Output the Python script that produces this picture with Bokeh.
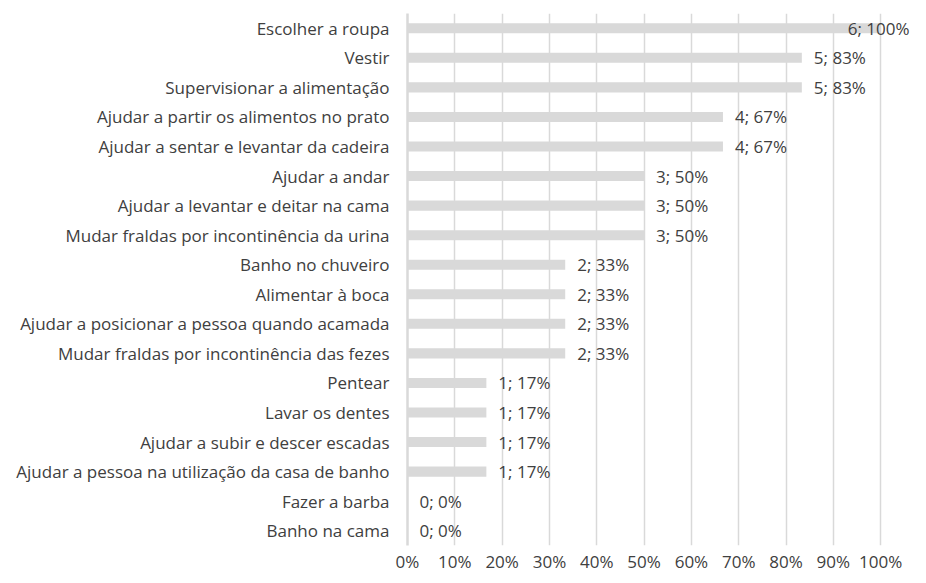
from bokeh.plotting import figure
from bokeh.models import ColumnDataSource, Range1d, FixedTicker, NumeralTickFormatter
from bokeh.embed import file_html
from bokeh.resources import INLINE
from bokeh.core.properties import value

categories = [
    "Escolher a roupa",
    "Vestir",
    "Supervisionar a alimentação",
    "Ajudar a partir os alimentos no prato",
    "Ajudar a sentar e levantar da cadeira",
    "Ajudar a andar",
    "Ajudar a levantar e deitar na cama",
    "Mudar fraldas por incontinência da urina",
    "Banho no chuveiro",
    "Alimentar à boca",
    "Ajudar a posicionar a pessoa quando acamada",
    "Mudar fraldas por incontinência das fezes",
    "Pentear",
    "Lavar os dentes",
    "Ajudar a subir e descer escadas",
    "Ajudar a pessoa na utilização da casa de banho",
    "Fazer a barba",
    "Banho na cama",
]
counts = [6, 5, 5, 4, 4, 3, 3, 3, 2, 2, 2, 2, 1, 1, 1, 1, 0, 0]
total = 6
x_ticks = [0, 0.1, 0.2, 0.3, 0.4, 0.5, 0.6, 0.7, 0.8, 0.9, 1.0]

shares = [c / total for c in counts]
labels = [f"{c}; {round(c / total * 100)}%" for c in counts]

FONT = "Open Sans"
TXT = "#404040"
GRID = "#d9d9d9"
FS = "17px"

x_end = 1.063
p = figure(
    width=910, height=575,
    y_range=list(reversed(categories)),
    x_range=Range1d(0, x_end),
    output_backend="svg", toolbar_location=None,
    min_border_left=407, min_border_right=0, min_border_top=13, min_border_bottom=27,
)
p.outline_line_color = None
p.y_range.range_padding = 0

src = ColumnDataSource(dict(cat=categories, share=shares))
p.hbar(y="cat", left=0, right="share", height=0.34, source=src,
       fill_color=GRID, line_color=None)

# labels: normal ones right of bar end, the full one right-aligned at frame end
norm = [i for i, s in enumerate(shares) if s < 1.0]
full = [i for i, s in enumerate(shares) if s >= 1.0]
src_n = ColumnDataSource(dict(y=[categories[i] for i in norm], x=[shares[i] for i in norm],
                              t=[labels[i] for i in norm]))
src_f = ColumnDataSource(dict(y=[categories[i] for i in full], x=[x_end for i in full],
                              t=[labels[i] for i in full]))
p.text(x="x", y="y", text="t", source=src_n, x_offset=12, text_align="left",
       text_baseline="middle", text_font=value(FONT), text_font_size=FS, text_color=TXT)
p.text(x="x", y="y", text="t", source=src_f, x_offset=-1, text_align="right",
       text_baseline="middle", text_font=value(FONT), text_font_size=FS, text_color=TXT)

p.ygrid.grid_line_color = None
p.xgrid.grid_line_color = GRID
p.xgrid.grid_line_width = 1.5
p.xaxis.ticker = FixedTicker(ticks=x_ticks)
p.xaxis.formatter = NumeralTickFormatter(format="0%")
p.xaxis.axis_line_color = None
p.xaxis.major_tick_line_color = None
p.xaxis.minor_tick_line_color = None
p.xaxis.major_tick_out = 0
p.xaxis.minor_tick_out = 0
p.xaxis.major_label_standoff = 4
p.xaxis.major_label_text_font = FONT
p.xaxis.major_label_text_font_size = FS
p.xaxis.major_label_text_color = TXT

p.yaxis.axis_line_color = GRID
p.yaxis.axis_line_width = 2.5
p.yaxis.major_tick_line_color = None
p.yaxis.minor_tick_line_color = None
p.yaxis.major_tick_out = 0
p.yaxis.minor_tick_out = 0
p.yaxis.major_label_standoff = 18
p.yaxis.major_label_text_font = FONT
p.yaxis.major_label_text_font_size = FS
p.yaxis.major_label_text_color = TXT

open("out.html", "w").write(file_html(p, INLINE))
